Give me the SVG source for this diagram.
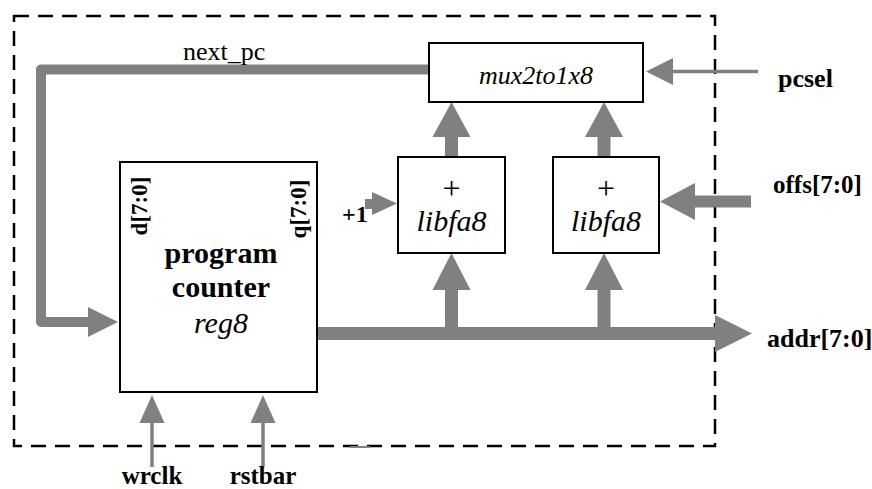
<svg xmlns="http://www.w3.org/2000/svg" width="872" height="489" viewBox="0 0 872 489">
<style>
  .box { fill: #ffffff; stroke: #000000; stroke-width: 2; }
  .frame { fill: none; stroke: #000000; stroke-width: 2.5; stroke-dasharray: 15 9; }
  .bus { fill: none; stroke: #808080; stroke-linejoin: round; }
  .head { fill: #808080; stroke: none; }
  text { font-family: 'Liberation Serif', Tinos, 'DejaVu Serif', serif; fill: #000000; }
  .b { font-weight: bold; }
  .i { font-style: italic; }
  .c { text-anchor: middle; }
</style>

<rect class="frame" x="14" y="16" width="701" height="430"/>
<line x1="350" y1="447" x2="370" y2="447" stroke="#808080" stroke-width="2"/>

<g id="connectors">
  <path class="bus" stroke-width="10" d="M429,69.5 H41 V322 H89"/>
  <polygon class="head" points="88,307 88,337 118,322"/>
  <line class="bus" stroke-width="13" x1="451.5" y1="157" x2="451.5" y2="136"/>
  <polygon class="head" points="432.5,137 470.5,137 451.5,102"/>
  <line class="bus" stroke-width="13" x1="604" y1="157" x2="604" y2="136"/>
  <polygon class="head" points="585,137 623,137 604,102"/>
  <line class="bus" stroke-width="3.5" x1="758" y1="71.5" x2="672" y2="71.5"/>
  <polygon class="head" points="673,58 673,85 646,71.5"/>
  <line class="bus" stroke-width="12" x1="751" y1="201.5" x2="694" y2="201.5"/>
  <polygon class="head" points="695,183 695,220 660,201.5"/>
  <line class="bus" stroke-width="10" x1="365" y1="204" x2="373" y2="204"/>
  <polygon class="head" points="372,192 372,215 397,203.5"/>
  <line class="bus" stroke-width="13" x1="317" y1="333.5" x2="716" y2="333.5"/>
  <polygon class="head" points="715,315 715,352 752,333.5"/>
  <line class="bus" stroke-width="13" x1="451.5" y1="334" x2="451.5" y2="289"/>
  <polygon class="head" points="432.5,290 470.5,290 451.5,253"/>
  <line class="bus" stroke-width="13" x1="604" y1="334" x2="604" y2="289"/>
  <polygon class="head" points="585,290 623,290 604,253"/>
  <line class="bus" stroke-width="3.5" x1="152" y1="467" x2="152" y2="422"/>
  <polygon class="head" points="139.5,423 164.5,423 152,395"/>
  <line class="bus" stroke-width="3.5" x1="263" y1="467" x2="263" y2="422"/>
  <polygon class="head" points="250.5,423 275.5,423 263,395"/>
</g>

<g id="mux">
  <rect class="box" x="429" y="43" width="214" height="59"/>
  <text class="i c" x="536" y="84" font-size="26">mux2to1x8</text>
</g>

<g id="adder1">
  <rect class="box" x="398" y="157" width="107" height="96"/>
  <text class="c" x="451.5" y="199" font-size="32">+</text>
  <text class="i c" x="451.5" y="231" font-size="30">libfa8</text>
</g>

<g id="adder2">
  <rect class="box" x="553" y="157" width="106" height="96"/>
  <text class="c" x="606" y="199" font-size="32">+</text>
  <text class="i c" x="606" y="231" font-size="30">libfa8</text>
</g>

<g id="counter">
  <rect class="box" x="120" y="162" width="197" height="230"/>
  <text class="b c" font-size="23" transform="translate(147,206) rotate(-90)">d[7:0]</text>
  <text class="b c" font-size="23" transform="translate(306,209) rotate(-90)">q[7:0]</text>
  <text class="b c" x="221" y="263" font-size="30">program</text>
  <text class="b c" x="221" y="297" font-size="30">counter</text>
  <text class="i c" x="221" y="333" font-size="30">reg8</text>
</g>

<g id="labels">
  <text x="183" y="60" font-size="26">next_pc</text>
  <text class="b" x="342" y="222" font-size="24">+1</text>
  <text class="b" x="778" y="87" font-size="26">pcsel</text>
  <text class="b" x="773" y="193" font-size="25">offs[7:0]</text>
  <text class="b" x="767" y="347" font-size="26">addr[7:0]</text>
  <text class="b c" x="152" y="484" font-size="25">wrclk</text>
  <text class="b c" x="263" y="484" font-size="25">rstbar</text>
</g>
</svg>
